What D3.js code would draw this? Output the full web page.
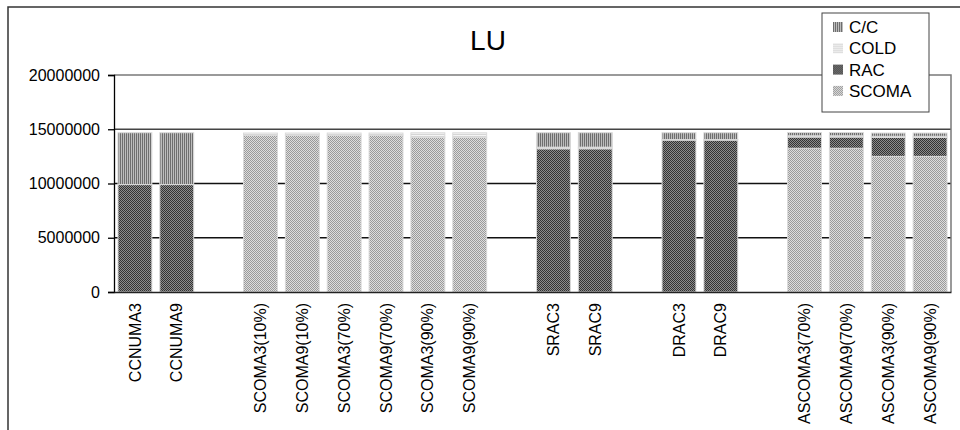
<!DOCTYPE html>
<html>
<head>
<meta charset="utf-8">
<script src="https://cdn.jsdelivr.net/npm/d3@7/dist/d3.min.js"></script>
<style>
  html, body { margin: 0; padding: 0; background: #fff; }
  svg { display: block; font-family: "Liberation Sans", Arial, sans-serif; }
</style>
</head>
<body>
<svg id="chart" width="960" height="430"></svg>
<script>
// Configurations along the x axis; empty strings are spacer slots between groups
const categories = [
  "CCNUMA3", "CCNUMA9", "",
  "SCOMA3(10%)", "SCOMA9(10%)", "SCOMA3(70%)", "SCOMA9(70%)", "SCOMA3(90%)", "SCOMA9(90%)", "",
  "SRAC3", "SRAC9", "",
  "DRAC3", "DRAC9", "",
  "ASCOMA3(70%)", "ASCOMA9(70%)", "ASCOMA3(90%)", "ASCOMA9(90%)"
];

// Stacked components (bottom to top)
const scomaValues = [0, 0, 0, 14450000, 14450000, 14450000, 14450000, 14250000, 14250000, 0, 0, 0, 0, 0, 0, 0, 13250000, 13250000, 12500000, 12500000];
const racValues   = [9900000, 9900000, 0, 0, 0, 0, 0, 0, 0, 0, 13200000, 13200000, 0, 14000000, 14000000, 0, 1030000, 1030000, 1750000, 1750000];
const coldValues  = [0, 0, 0, 200000, 200000, 200000, 200000, 420000, 420000, 0, 150000, 150000, 0, 50000, 50000, 0, 120000, 120000, 100000, 100000];
const ccValues    = [4780000, 4780000, 0, 0, 0, 0, 0, 0, 0, 0, 1330000, 1330000, 0, 630000, 630000, 0, 300000, 300000, 300000, 300000];

const seriesKeys = ["SCOMA", "RAC", "COLD", "C/C"];
const legendOrder = ["C/C", "COLD", "RAC", "SCOMA"];
const yTicks = [0, 5000000, 10000000, 15000000, 20000000];
const title = "LU";

const rows = categories.map((c, i) => ({
  idx: i,
  SCOMA: scomaValues[i],
  RAC: racValues[i],
  COLD: coldValues[i],
  "C/C": ccValues[i]
}));

const svg = d3.select("#chart");

// Fill patterns for each component
const defs = svg.append("defs");
function checker(id, a, b) {
  const p = defs.append("pattern").attr("id", id)
    .attr("patternUnits", "userSpaceOnUse").attr("width", 2).attr("height", 2);
  p.append("rect").attr("width", 2).attr("height", 2).attr("fill", b);
  p.append("rect").attr("width", 1).attr("height", 1).attr("fill", a);
  p.append("rect").attr("x", 1).attr("y", 1).attr("width", 1).attr("height", 1).attr("fill", a);
}
checker("pat-rac", "#333333", "#8c8c8c");
checker("pat-scoma", "#9a9a9a", "#dddddd");
(function () {
  const p = defs.append("pattern").attr("id", "pat-cc")
    .attr("patternUnits", "userSpaceOnUse").attr("width", 2).attr("height", 2);
  p.append("rect").attr("width", 2).attr("height", 2).attr("fill", "#bcbcbc");
  p.append("rect").attr("width", 1).attr("height", 2).attr("fill", "#6e6e6e");
})();
(function () {
  const p = defs.append("pattern").attr("id", "pat-cold")
    .attr("patternUnits", "userSpaceOnUse").attr("width", 2).attr("height", 2);
  p.append("rect").attr("width", 2).attr("height", 2).attr("fill", "#f4f4f4");
  p.append("rect").attr("width", 2).attr("height", 1).attr("fill", "#d6d6d6");
})();
const fills = { "SCOMA": "url(#pat-scoma)", "RAC": "url(#pat-rac)", "COLD": "url(#pat-cold)", "C/C": "url(#pat-cc)" };

// Outer chart frame
svg.append("rect").attr("x", 8).attr("y", 7).attr("width", 970).attr("height", 450)
  .attr("fill", "#fff").attr("stroke", "#333").attr("stroke-width", 1.5);

const plot = { left: 114, right: 951, top: 75, bottom: 292 };

const x = d3.scaleBand()
  .domain(d3.range(categories.length))
  .range([plot.left, plot.right])
  .paddingInner(0.19)
  .paddingOuter(0.095);

const y = d3.scaleLinear()
  .domain([0, 20000000])
  .range([plot.bottom, plot.top]);

// Horizontal gridlines
svg.append("g")
  .selectAll("line")
  .data(yTicks.filter(t => t > 0 && t < 20000000))
  .join("line")
  .attr("x1", plot.left).attr("x2", plot.right)
  .attr("y1", d => y(d)).attr("y2", d => y(d))
  .attr("stroke", d => d === 15000000 ? "#444" : "#111")
  .attr("stroke-width", 1.3);

// Plot area top and right edges
svg.append("path")
  .attr("d", `M${plot.left},${y(20000000)}H${plot.right}V${plot.bottom}`)
  .attr("fill", "none").attr("stroke", "#7a7a7a").attr("stroke-width", 1.5);

// Stacked bars
const stacked = d3.stack().keys(seriesKeys)(rows);
svg.append("g")
  .selectAll("g")
  .data(stacked)
  .join("g")
  .attr("fill", d => fills[d.key])
  .selectAll("rect")
  .data(d => d.filter(s => s[1] - s[0] > 0))
  .join("rect")
  .attr("x", d => x(d.data.idx))
  .attr("width", x.bandwidth())
  .attr("y", d => y(d[1]))
  .attr("height", d => y(d[0]) - y(d[1]))
  .attr("stroke", "#dadada")
  .attr("stroke-width", 1);

// Y axis
const yAxis = svg.append("g")
  .attr("transform", `translate(${plot.left},0)`)
  .call(d3.axisLeft(y).tickValues(yTicks).tickFormat(d3.format("d")).tickSize(6).tickPadding(8));
yAxis.select(".domain").attr("stroke", "#000").attr("stroke-width", 1.3);
yAxis.selectAll(".tick line").attr("stroke", "#000").attr("stroke-width", 1.3);
yAxis.selectAll(".tick text")
  .attr("font-size", 16)
  .attr("font-family", "Liberation Sans, Arial, sans-serif")
  .attr("fill", "#000");

// X axis with rotated category labels
const xAxis = svg.append("g")
  .attr("transform", `translate(0,${plot.bottom})`)
  .call(d3.axisBottom(x).tickFormat(i => categories[i]).tickSize(0).tickSizeOuter(0));
xAxis.select(".domain").attr("stroke", "#222").attr("stroke-width", 1.5);
xAxis.selectAll(".tick text")
  .attr("font-size", 16)
  .attr("font-family", "Liberation Sans, Arial, sans-serif")
  .attr("fill", "#000")
  .attr("text-anchor", "end")
  .attr("dy", "0.35em")
  .attr("transform", "translate(0,11) rotate(-90)")
  .attr("x", 0)
  .attr("y", 0);

// Title
svg.append("text")
  .attr("x", 488).attr("y", 50)
  .attr("text-anchor", "middle")
  .attr("font-size", 28)
  .attr("fill", "#000")
  .text(title);

// Legend
const legend = svg.append("g");
legend.append("rect")
  .attr("x", 822).attr("y", 13).attr("width", 107).attr("height", 99)
  .attr("fill", "#fff").attr("stroke", "#444").attr("stroke-width", 1);
const items = legend.selectAll("g.item")
  .data(legendOrder)
  .join("g")
  .attr("class", "item")
  .attr("transform", (d, i) => `translate(833,${27 + i * 21.3})`);
items.append("rect")
  .attr("x", 0).attr("y", -5).attr("width", 10).attr("height", 10)
  .attr("fill", d => fills[d]);
items.append("text")
  .attr("x", 16).attr("y", 0).attr("dy", "0.36em")
  .attr("font-size", 17)
  .attr("fill", "#000")
  .text(d => d);
</script>
</body>
</html>
